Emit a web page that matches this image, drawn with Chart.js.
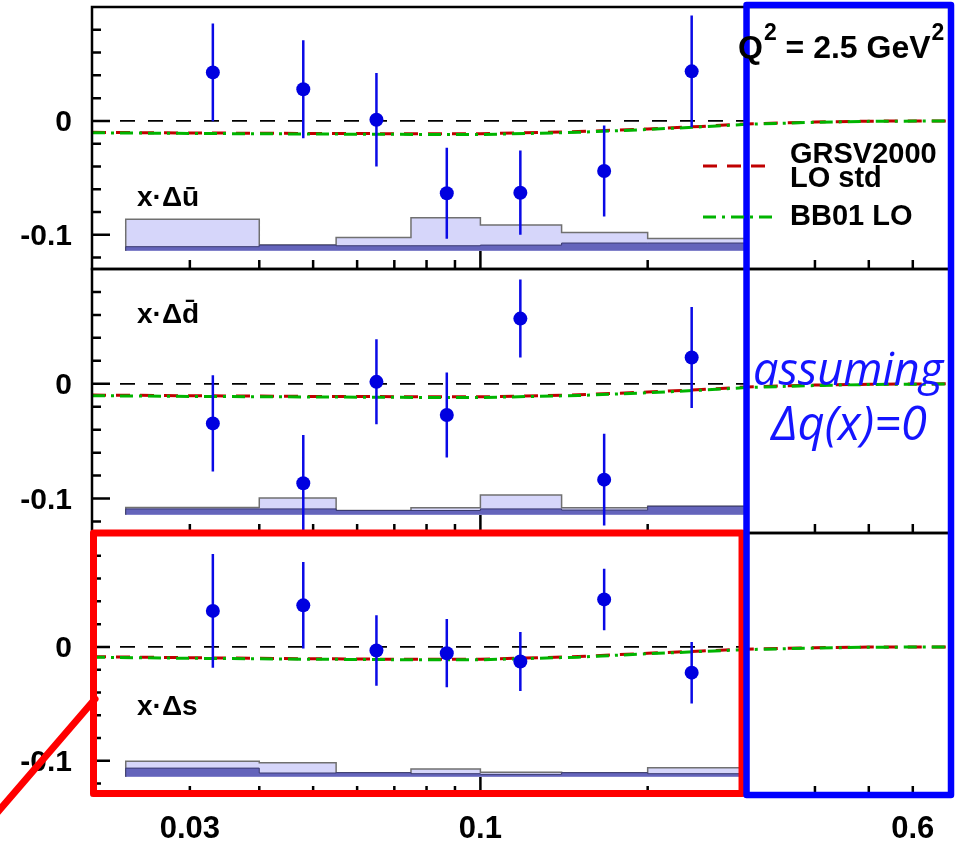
<!DOCTYPE html>
<html>
<head>
<meta charset="utf-8">
<title>Sea quark helicity distributions</title>
<script src="https://cdn.jsdelivr.net/npm/chart.js@4"></script>
<style>
  html, body { margin: 0; padding: 0; background: #fff; }
  #wrap { position: relative; width: 958px; height: 842px; }
  #wrap canvas { position: absolute; left: 0; top: 0; }
</style>
</head>
<body>
<div id="wrap">
  <canvas id="ubarChart" width="958" height="842"></canvas>
  <canvas id="dbarChart" width="958" height="842"></canvas>
  <canvas id="sChart" width="958" height="842"></canvas>
</div>
<script>
// Data points (x bin centres)
const xPoints = [0.033, 0.048, 0.065, 0.087, 0.118, 0.167, 0.240];
const binEdges = [0.023, 0.04, 0.055, 0.075, 0.1, 0.14, 0.2, 0.3];

const ubarValues = [0.0426, 0.0278, 0.0010, -0.0635, -0.0630, -0.0440, 0.0435];
const ubarErrors = [0.043, 0.043, 0.041, 0.040, 0.037, 0.040, 0.049];
const dbarValues = [-0.0345, -0.0867, 0.0017, -0.0272, 0.0568, -0.0835, 0.0229];
const dbarErrors = [0.042, 0.042, 0.037, 0.037, 0.034, 0.040, 0.044];
const sValues = [0.0316, 0.0365, -0.0032, -0.0055, -0.0128, 0.0417, -0.0226];
const sErrors = [0.050, 0.038, 0.031, 0.030, 0.026, 0.027, 0.027];

// Parametrisations
const xTheory = [0.02, 0.03, 0.05, 0.07, 0.1, 0.15, 0.2, 0.25, 0.3, 0.4, 0.5, 0.7];
const grsvUbar = [-0.0100, -0.0106, -0.0110, -0.0112, -0.0113, -0.0094, -0.0070, -0.0048, -0.0027, -0.0010, -0.0002, 0.0];
const bb01Ubar = [-0.0104, -0.0110, -0.0115, -0.0118, -0.0120, -0.0100, -0.0075, -0.0052, -0.0030, -0.0012, -0.0004, 0.0];
const grsvDbar = [-0.0098, -0.0104, -0.0110, -0.0112, -0.0114, -0.0096, -0.0072, -0.0050, -0.0028, -0.0011, -0.0004, 0.0];
const bb01Dbar = [-0.0104, -0.0110, -0.0115, -0.0118, -0.0120, -0.0102, -0.0078, -0.0056, -0.0033, -0.0015, -0.0006, -0.0002];
const grsvS = [-0.0086, -0.0095, -0.0104, -0.0108, -0.0108, -0.0085, -0.0056, -0.0036, -0.0020, -0.0007, -0.0001, 0.0];
const bb01S = [-0.0090, -0.0100, -0.0108, -0.0112, -0.0113, -0.0090, -0.0060, -0.0040, -0.0024, -0.0010, -0.0003, 0.0];

// Systematic bands (heights above the base line)
const sysBase = -0.114;
const ubarSysTotal = [0.0277, 0.0050, 0.0117, 0.0290, 0.0227, 0.0160, 0.0108];
const ubarSysPart = [0.0036, 0.0050, 0.0044, 0.0044, 0.0050, 0.0068, 0.0068];
const dbarSysTotal = [0.0062, 0.0146, 0.0036, 0.0060, 0.0172, 0.0060, 0.0073];
const dbarSysPart = [0.0050, 0.0050, 0.0036, 0.0036, 0.0050, 0.0040, 0.0073];
const sSysTotal = [0.0137, 0.0123, 0.0036, 0.0068, 0.0040, 0.0036, 0.0080];
const sSysPart = [0.0076, 0.0033, 0.0036, 0.0027, 0.0021, 0.0036, 0.0027];

// Axes
const xTickValues = [0.03, 0.1, 0.6];
const xTickLabels = ["0.03", "0.1", "0.6"];
const xMajorTicks = [0.1];
const xMinorTicks = [0.03, 0.04, 0.05, 0.06, 0.07, 0.08, 0.09, 0.2, 0.3, 0.4, 0.5, 0.6];
const yTickValues = [0, -0.1];
const yTickLabels = ["0", "-0.1"];
const yMinorTicks = [0.08, 0.06, 0.04, 0.02, -0.02, -0.04, -0.06, -0.08, -0.12];

const BOLD = "'Liberation Sans', Arial, sans-serif";
const RED_DASH = [14, 10];
const GREEN_DASH = [13, 6, 3, 6];

function stepData(heights) {
  const last = binEdges.length - 1;
  const pts = [{x: binEdges[0], y: sysBase}];
  heights.forEach((h, i) => pts.push({x: binEdges[i], y: sysBase + h}));
  pts.push({x: binEdges[last], y: sysBase + heights[heights.length - 1]});
  pts.push({x: binEdges[last], y: sysBase});
  return pts;
}

function errorBarData(values, errors) {
  const pts = [];
  values.forEach((v, i) => {
    pts.push({x: xPoints[i], y: v - errors[i]});
    pts.push({x: xPoints[i], y: v + errors[i]});
    pts.push({x: xPoints[i], y: null});
  });
  return pts;
}

const toXY = (xs, ys) => xs.map((x, i) => ({x, y: ys[i]}));

// Frame, inner ticks and panel label
const framePlugin = {
  id: "frame",
  afterDatasetsDraw(chart, args, opts) {
    const {ctx, chartArea: a, scales: {x, y}} = chart;
    ctx.save();
    ctx.strokeStyle = "#000";
    ctx.lineWidth = 2.5;
    ctx.strokeRect(a.left, a.top, a.width, a.height);
    ctx.beginPath();
    yTickValues.forEach(v => { const p = y.getPixelForValue(v); ctx.moveTo(a.left, p); ctx.lineTo(a.left + 18, p); });
    yMinorTicks.forEach(v => { const p = y.getPixelForValue(v); ctx.moveTo(a.left, p); ctx.lineTo(a.left + 9, p); });
    xMajorTicks.forEach(v => { const p = x.getPixelForValue(v); ctx.moveTo(p, a.bottom); ctx.lineTo(p, a.bottom - 18); });
    xMinorTicks.forEach(v => { const p = x.getPixelForValue(v); ctx.moveTo(p, a.bottom); ctx.lineTo(p, a.bottom - 9); });
    ctx.stroke();

    ctx.fillStyle = "#000";
    ctx.font = "bold 28px " + BOLD;
    ctx.textBaseline = "alphabetic";
    ctx.fillText(opts.label, x.getPixelForValue(opts.labelX), y.getPixelForValue(opts.labelY));
    ctx.restore();
  }
};

// Boxes, legend and annotations on top of everything
const overlayPlugin = {
  id: "overlay",
  afterDraw(chart) {
    const {ctx, scales: {x}} = chart;
    const split = x.getPixelForValue(0.3);
    ctx.save();
    ctx.lineJoin = "round";
    ctx.lineCap = "round";

    // red box around the strange panel
    ctx.strokeStyle = "#ff0000";
    ctx.lineWidth = 7;
    ctx.strokeRect(93.5, 533, split - 3.5 - 93.5, 260.5);
    ctx.beginPath();
    ctx.moveTo(-4, 814);
    ctx.lineTo(95, 699);
    ctx.stroke();

    // blue box over the high-x region
    ctx.strokeStyle = "#0000ff";
    ctx.lineWidth = 6.5;
    ctx.strokeRect(split + 1, 5, 951 - split - 1, 790);

    // Q^2 label
    ctx.fillStyle = "#000";
    let tx = 738;
    const big = "bold 32px " + BOLD, sup = "bold 23px " + BOLD;
    ctx.font = big; ctx.fillText("Q", tx, 58); tx += ctx.measureText("Q").width + 1;
    ctx.font = sup; ctx.fillText("2", tx, 40); tx += ctx.measureText("2").width;
    ctx.font = big; ctx.fillText(" = 2.5 GeV", tx, 58); tx += ctx.measureText(" = 2.5 GeV").width + 1;
    ctx.font = sup; ctx.fillText("2", tx, 40);

    // legend
    ctx.lineCap = "butt";
    ctx.lineWidth = 3;
    ctx.strokeStyle = "#c00000";
    ctx.setLineDash(RED_DASH);
    ctx.beginPath(); ctx.moveTo(703, 166); ctx.lineTo(775, 166); ctx.stroke();
    ctx.strokeStyle = "#00b400";
    ctx.setLineDash(GREEN_DASH);
    ctx.beginPath(); ctx.moveTo(703, 217); ctx.lineTo(775, 217); ctx.stroke();
    ctx.setLineDash([]);
    ctx.font = "bold 29px " + BOLD;
    ctx.fillText("GRSV2000", 790, 163);
    ctx.fillText("LO std", 790, 187);
    ctx.fillText("BB01 LO", 790, 225);

    // assumption note
    ctx.fillStyle = "#1414ff";
    ctx.textAlign = "center";
    ctx.font = "italic 45px 'Open Sans', sans-serif";
    ctx.fillText("assuming", 848, 385);
    ctx.font = "italic 47px 'Open Sans', sans-serif";
    ctx.fillText("\u0394q(x)=0", 849, 440);
    ctx.restore();
  }
};

function makePanel(canvasId, cfg) {
  return new Chart(document.getElementById(canvasId), {
    type: "line",
    data: {
      datasets: [
        { data: toXY(xPoints, cfg.values), showLine: false, pointRadius: 7, pointHoverRadius: 7,
          pointBackgroundColor: "#0000e0", pointBorderWidth: 0, order: 0 },
        { data: errorBarData(cfg.values, cfg.errors), borderColor: "#0a0ae6", borderWidth: 2.5,
          pointRadius: 0, spanGaps: false, order: 1 },
        { data: toXY(xTheory, cfg.bb01), borderColor: "#00b400", borderWidth: 3,
          borderDash: GREEN_DASH, pointRadius: 0, order: 2 },
        { data: toXY(xTheory, cfg.grsv), borderColor: "#c00000", borderWidth: 3,
          borderDash: RED_DASH, pointRadius: 0, order: 3 },
        { data: [{x: 0.02, y: 0}, {x: 0.3, y: 0}], borderColor: "#000", borderWidth: 1.8,
          borderDash: [15, 13], pointRadius: 0, order: 4 },
        { data: stepData(cfg.sysPart), stepped: "before", borderColor: "#3a3a70", borderWidth: 1,
          backgroundColor: "#6464bb", fill: {value: sysBase}, pointRadius: 0, order: 5 },
        { data: stepData(cfg.sysTotal), stepped: "before", borderColor: "#707070", borderWidth: 1.5,
          backgroundColor: "#d6d6fa", fill: {value: sysBase}, pointRadius: 0, order: 6 }
      ]
    },
    options: {
      responsive: false,
      animation: false,
      events: [],
      layout: { padding: cfg.padding },
      plugins: {
        legend: { display: false },
        tooltip: { enabled: false },
        frame: { label: cfg.label, labelX: 0.0241, labelY: cfg.labelY }
      },
      scales: {
        x: {
          type: "logarithmic", min: 0.02, max: 0.7,
          display: cfg.showX,
          afterFit: s => {
            s.height = cfg.showX ? 47 : 0;
            s.paddingLeft = 0; s.paddingRight = 0;
          },
          afterBuildTicks: s => { s.ticks = xTickValues.map(v => ({value: v})); },
          grid: { display: false, drawTicks: false },
          border: { display: false },
          ticks: {
            callback: (v, i) => xTickLabels[i],
            autoSkip: false, maxRotation: 0, padding: 16, color: "#000",
            font: { family: BOLD, weight: "bold", size: 31 }
          }
        },
        y: {
          min: -0.13, max: 0.1,
          afterFit: s => {
            s.width = 92;
            s.paddingTop = 0; s.paddingBottom = 0;
          },
          afterBuildTicks: s => { s.ticks = yTickValues.map(v => ({value: v})); },
          grid: { display: false, drawTicks: false },
          border: { display: false },
          ticks: {
            callback: (v, i) => yTickLabels[i],
            padding: 20, labelOffset: 2, color: "#000",
            font: { family: BOLD, weight: "bold", size: 30 }
          }
        }
      }
    },
    plugins: cfg.overlay ? [framePlugin, overlayPlugin] : [framePlugin]
  });
}

makePanel("ubarChart", {
  values: ubarValues, errors: ubarErrors, grsv: grsvUbar, bb01: bb01Ubar,
  sysTotal: ubarSysTotal, sysPart: ubarSysPart,
  label: "x\u00b7\u0394\u016b", labelY: -0.075,
  padding: { top: 6, bottom: 573, left: 0, right: 8 }, showX: false
});

makePanel("dbarChart", {
  values: dbarValues, errors: dbarErrors, grsv: grsvDbar, bb01: bb01Dbar,
  sysTotal: dbarSysTotal, sysPart: dbarSysPart,
  label: "x\u00b7\u0394d\u0304", labelY: 0.053,
  padding: { top: 269, bottom: 309, left: 0, right: 8 }, showX: false
});

makePanel("sChart", {
  values: sValues, errors: sErrors, grsv: grsvS, bb01: bb01S,
  sysTotal: sSysTotal, sysPart: sSysPart,
  label: "x\u00b7\u0394s", labelY: -0.06,
  padding: { top: 533, bottom: 0, left: 0, right: 8 }, showX: true, overlay: true
});
</script>
</body>
</html>
